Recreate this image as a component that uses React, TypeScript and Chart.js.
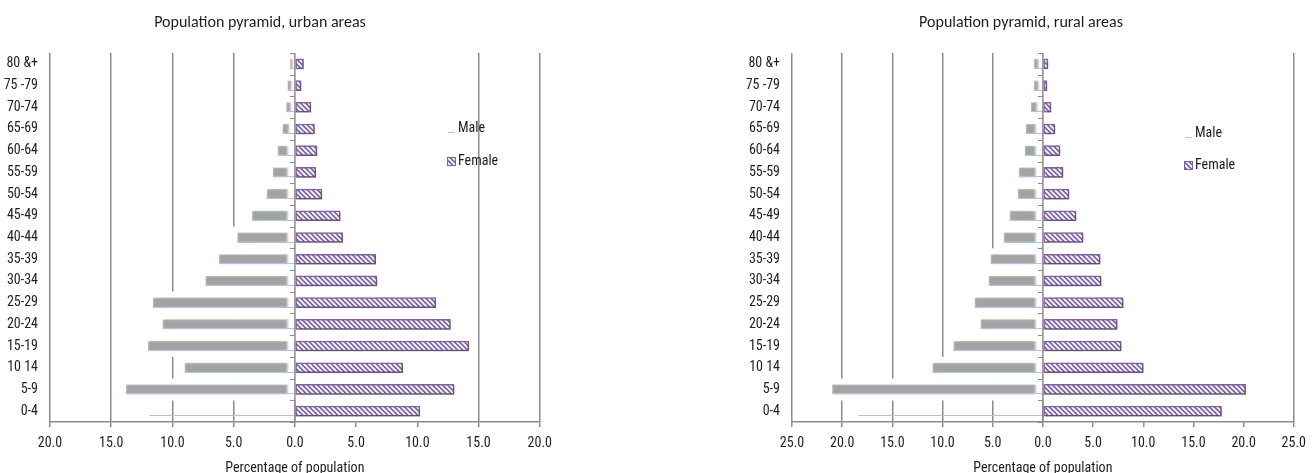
import React, { useEffect, useRef } from "react";
import { Chart, registerables } from "chart.js";

Chart.register(...registerables);

// ---------- data ----------
const ageGroups = ["80 &+", "75 -79", "70-74", "65-69", "60-64", "55-59", "50-54", "45-49", "40-44", "35-39", "30-34", "25-29", "20-24", "15-19", "10 14", "5-9", "0-4"];
const urbanMale = [0.4, 0.6, 0.7, 1.0, 1.4, 1.8, 2.3, 3.5, 4.7, 6.2, 7.3, 11.6, 10.8, 12.0, 9.0, 13.8, 11.9];
const urbanFemale = [0.7, 0.5, 1.3, 1.6, 1.8, 1.7, 2.2, 3.7, 3.9, 6.6, 6.7, 11.5, 12.7, 14.2, 8.8, 13.0, 10.2];
const ruralMale = [0.9, 0.9, 1.2, 1.7, 1.8, 2.4, 2.5, 3.3, 3.9, 5.2, 5.4, 6.8, 6.2, 8.9, 11.0, 21.0, 18.4];
const ruralFemale = [0.5, 0.4, 0.8, 1.2, 1.7, 2.0, 2.6, 3.3, 4.0, 5.7, 5.8, 8.0, 7.4, 7.8, 10.0, 20.2, 17.8];
const urbanAxisLimit = 20;
const ruralAxisLimit = 25;
const axisStep = 5;
const seriesNames = ["Male", "Female"];
const unshadedMaleGroups = ["0-4"];
const urbanTitle = "Population pyramid, urban areas";
const ruralTitle = "Population pyramid, rural areas";
const axisTitle = "Percentage of population";

// ---------- styles ----------
const NARROW = "'Roboto Condensed', 'Liberation Sans', sans-serif";
const TITLE_FONT = "Carlito, Calibri, Lato, sans-serif";
const PURPLE = "#7F62A6";
const GRAY = "#A3A3A3";
const GRID = "#8C8C8C";
const BLUE_LINE = "#A9C6EA";
const TEXT = "#1E1E1E";

function makeHatch(): CanvasPattern | string {
  const c = document.createElement("canvas");
  const s = 5;
  c.width = s;
  c.height = s;
  const g = c.getContext("2d");
  if (!g) return PURPLE;
  g.fillStyle = PURPLE;
  g.fillRect(0, 0, s, s);
  g.strokeStyle = "#ffffff";
  g.lineWidth = 1.8;
  g.beginPath();
  g.moveTo(-1, -1);
  g.lineTo(s + 1, s + 1);
  g.moveTo(-2, s - 2);
  g.lineTo(2, s + 2);
  g.moveTo(s - 2, -2);
  g.lineTo(s + 2, 2);
  g.stroke();
  return g.createPattern(c, "repeat") || PURPLE;
}

type PyramidProps = {
  male: number[];
  female: number[];
  limit: number;
  title: string;
  left: number;
  width: number;
  yAxisWidth: number;
  padRight: number;
  titleX: number;
  legend: { markX: number; textX: number; maleY: number; femaleY: number };
};

function Pyramid(props: PyramidProps) {
  const ref = useRef<HTMLCanvasElement>(null);
  useEffect(() => {
    const canvas = ref.current;
    if (!canvas) return;
    const hatch = makeHatch();
    const maxFemale = Math.max(...props.female);
    const maleNeg = props.male.map((v) => -v);
    const coverColors = ageGroups.map((a) => (unshadedMaleGroups.includes(a) ? "rgba(0,0,0,0)" : "#ffffff"));
    const maleColors = ageGroups.map((a) => (unshadedMaleGroups.includes(a) ? "rgba(0,0,0,0)" : GRAY));

    const extras = {
      id: "pyramidExtras",
      beforeDatasetDraw(chart: any, args: any) {
        const ctx = chart.ctx;
        ctx.save();
        if (args.index === 1) {
          ctx.filter = "blur(1px)";
        } else if (args.index === 0) {
          ctx.shadowColor = "rgba(0,0,0,0.28)";
          ctx.shadowOffsetX = 1.5;
          ctx.shadowOffsetY = 1.5;
          ctx.shadowBlur = 2;
        }
      },
      afterDatasetDraw(chart: any) {
        chart.ctx.restore();
      },
      afterDatasetsDraw(chart: any) {
        const ctx = chart.ctx;
        const xs = chart.scales.x;
        const ys = chart.scales.y;
        const area = chart.chartArea;
        const zx = xs.getPixelForValue(0);
        ctx.save();
        const meta = chart.getDatasetMeta(1);
        ctx.strokeStyle = BLUE_LINE;
        ctx.lineWidth = 1;
        meta.data.forEach((el: any) => {
          const p = el.getProps(["x", "y", "base", "height"], true);
          const yy = Math.round(p.y + p.height / 2) - 0.5;
          ctx.beginPath();
          ctx.moveTo(p.x, yy);
          ctx.lineTo(p.base, yy);
          ctx.stroke();
        });
        ctx.strokeStyle = GRID;
        ctx.lineWidth = 1.5;
        ctx.beginPath();
        ctx.moveTo(zx, area.top);
        ctx.lineTo(zx, area.bottom);
        ctx.stroke();
        ctx.lineWidth = 1;
        const n = ageGroups.length;
        const step = (area.bottom - area.top) / n;
        for (let i = 0; i <= n; i++) {
          const yy = Math.round(ys.getPixelForValue(0) - step / 2 + i * step) + 0.5;
          ctx.beginPath();
          ctx.moveTo(zx - 5, yy);
          ctx.lineTo(zx, yy);
          ctx.stroke();
        }
        ctx.restore();
      },
      afterDraw(chart: any) {
        const ctx = chart.ctx;
        ctx.save();
        ctx.fillStyle = TEXT;
        ctx.font = `16px ${TITLE_FONT}`;
        ctx.textAlign = "center";
        ctx.textBaseline = "middle";
        ctx.fillText(props.title, props.titleX, 23);
        const lg = props.legend;
        ctx.font = `14px ${NARROW}`;
        ctx.textAlign = "left";
        ctx.fillStyle = TEXT;
        ctx.fillText(seriesNames[0], lg.textX, lg.maleY);
        ctx.fillText(seriesNames[1], lg.textX, lg.femaleY);
        ctx.strokeStyle = BLUE_LINE;
        ctx.lineWidth = 1;
        ctx.beginPath();
        ctx.moveTo(lg.markX + 1, lg.maleY + 4.5);
        ctx.lineTo(lg.markX + 8, lg.maleY + 4.5);
        ctx.stroke();
        ctx.fillStyle = hatch as any;
        ctx.fillRect(lg.markX, lg.femaleY - 4, 9, 9);
        ctx.strokeStyle = PURPLE;
        ctx.lineWidth = 1;
        ctx.strokeRect(lg.markX + 0.5, lg.femaleY - 3.5, 8, 8);
        ctx.restore();
      },
    };

    const chart = new Chart(canvas, {
      type: "bar",
      data: {
        labels: ageGroups,
        datasets: [
          {
            label: seriesNames[1],
            data: props.female,
            backgroundColor: hatch as any,
            borderColor: PURPLE,
            borderWidth: 1.5,
            borderSkipped: false,
            barThickness: 10,
            grouped: false,
            order: 1,
          },
          {
            label: seriesNames[0],
            data: maleNeg,
            backgroundColor: maleColors,
            borderColor: coverColors,
            borderWidth: { top: 0, bottom: 0, left: 0, right: 7 },
            borderSkipped: false,
            barThickness: 10,
            grouped: false,
            order: 2,
          },
          {
            label: "cover",
            data: maleNeg,
            backgroundColor: coverColors,
            borderWidth: 0,
            barThickness: 8,
            inflateAmount: 7,
            grouped: false,
            order: 3,
          },
        ] as any,
      },
      options: {
        indexAxis: "y",
        responsive: false,
        animation: false,
        devicePixelRatio: 1,
        layout: { padding: { top: 53, right: props.padRight, left: 0, bottom: 0 } },
        plugins: { legend: { display: false }, tooltip: { enabled: false }, title: { display: false } },
        scales: {
          x: {
            min: -props.limit,
            max: props.limit,
            afterFit: (s: any) => {
              s.height = 51;
            },
            ticks: {
              stepSize: axisStep,
              color: TEXT,
              padding: 8,
              font: { family: NARROW, size: 14 },
              callback: (v: any) => Math.abs(Number(v)).toFixed(1),
            },
            grid: {
              color: (c: any) => {
                const v = c.tick ? c.tick.value : 0;
                return v > 0 && v < maxFemale ? "rgba(0,0,0,0)" : GRID;
              },
              lineWidth: 1.5,
              tickColor: GRID,
              tickLength: 5,
              tickWidth: 1.5,
            },
            border: { display: true, color: GRID, width: 1.5 },
            title: {
              display: true,
              text: axisTitle,
              color: TEXT,
              font: { family: NARROW, size: 14, lineHeight: 1 },
              padding: { top: 0, bottom: -2 },
            },
          },
          y: {
            afterFit: (s: any) => {
              s.width = props.yAxisWidth;
            },
            ticks: { color: TEXT, padding: 4, font: { family: NARROW, size: 14 } },
            grid: { display: false },
            border: { display: false },
          },
        },
      },
      plugins: [extras],
    } as any);
    return () => chart.destroy();
  }, []);
  return (
    <canvas
      ref={ref}
      width={props.width}
      height={473}
      style={{ position: "absolute", left: props.left, top: 0, width: props.width, height: 473 }}
    />
  );
}

export default function App() {
  return (
    <div style={{ position: "absolute", left: 0, top: 0, width: 1314, height: 473, background: "#ffffff", overflow: "hidden" }}>
      <Pyramid
        male={urbanMale}
        female={urbanFemale}
        limit={urbanAxisLimit}
        title={urbanTitle}
        left={0}
        width={560}
        yAxisWidth={50}
        padRight={15}
        titleX={260}
        legend={{ markX: 447, textX: 458, maleY: 128, femaleY: 161 }}
      />
      <Pyramid
        male={ruralMale}
        female={ruralFemale}
        limit={ruralAxisLimit}
        title={ruralTitle}
        left={700}
        width={614}
        yAxisWidth={92}
        padRight={14}
        titleX={321}
        legend={{ markX: 484, textX: 495, maleY: 133, femaleY: 165 }}
      />
    </div>
  );
}
